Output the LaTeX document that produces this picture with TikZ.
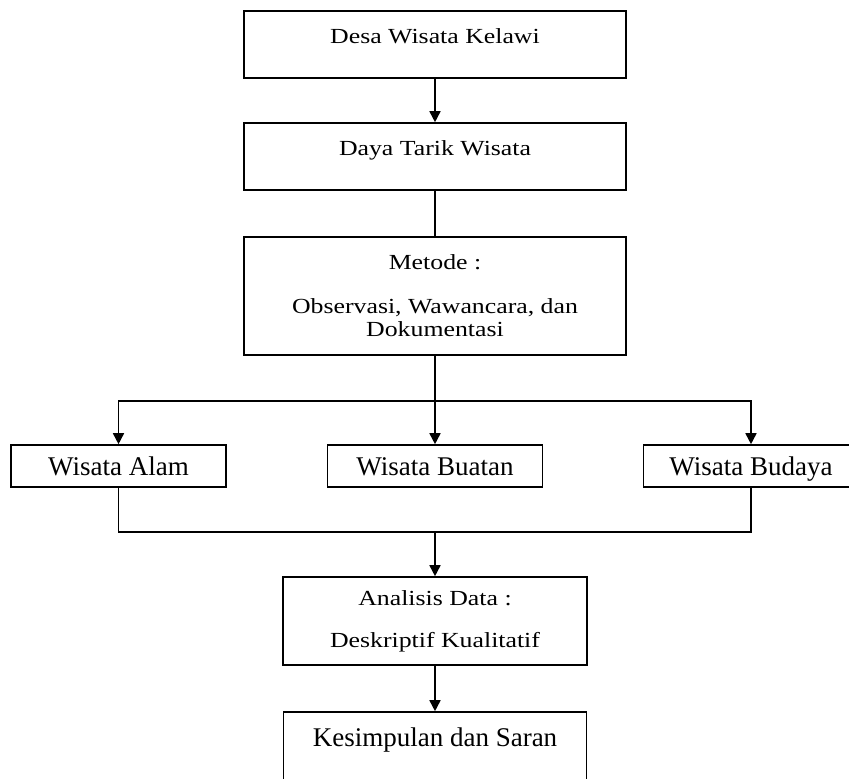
\documentclass[tikz,border=0pt]{standalone}
\usepackage{fontspec}
\setmainfont{Liberation Serif}
\newfontfamily\wideserif{Liberation Serif}[FakeStretch=1.2]
\usetikzlibrary{arrows.meta}

\begin{document}
\begin{tikzpicture}[x=1pt, y=-1pt, line width=1.6pt,
	>={Triangle[length=11pt,width=11pt]},
	topbox/.style={rectangle, draw, inner sep=0pt, align=center, minimum width=382pt,
		font=\wideserif\fontsize{21.5}{23}\selectfont},
	rowbox/.style={rectangle, draw, inner sep=0pt, minimum width=215pt, minimum height=42pt,
		text height=19pt, text depth=0pt, font=\fontsize{27}{30}\selectfont}]
		
		\useasboundingbox (0,0) rectangle (849,779);
		
		\node[topbox, minimum height=67pt, text height=15pt, text depth=18pt]
		(desa) at (435,44.5) {Desa Wisata Kelawi};
		
		\node[topbox, minimum height=67pt, text height=15pt, text depth=18pt]
		(daya) at (435,156.5) {Daya Tarik Wisata};
		
		\node[topbox, minimum height=118pt]
		(metode) at (435,296) {Metode :\\[21pt] Observasi, Wawancara, dan\\ Dokumentasi};
		
		\node[rowbox] (alam) at (118.5,466) {Wisata Alam};
		
		\node[rowbox] (buatan) at (435,466) {Wisata Buatan};
		
		\node[rowbox] (budaya) at (751,466) {Wisata Budaya};
		
		\node[topbox, minimum width=304pt, minimum height=88pt]
		(analisis) at (435,621) {Analisis Data :\\[19pt] Deskriptif Kualitatif};
		
		\node[rectangle, draw, inner sep=0pt, minimum width=303pt, minimum height=100pt,
		text height=19pt, text depth=51pt, font=\fontsize{27}{30}\selectfont]
		(kesimpulan) at (435,762) {Kesimpulan dan Saran};
		
		\coordinate (split) at (435,401);
		\coordinate (merge) at (435,532);
		
		\draw[->] (desa) -- (daya);
		
		\draw (daya) -- (metode);
		
		% Branches
		
		\draw (metode) -- (split);
		
		\draw[->] (split) -| (alam);
		
		\draw[->] (split) -- (buatan);
		
		\draw[->] (split) -| (budaya);
		
		\draw (alam) |- (merge);
		
		\draw (budaya) |- (merge);
		
		\draw[->] (merge) -- (analisis);
		
		\draw[->] (analisis) -- (kesimpulan);
		
	\end{tikzpicture}
\end{document}
